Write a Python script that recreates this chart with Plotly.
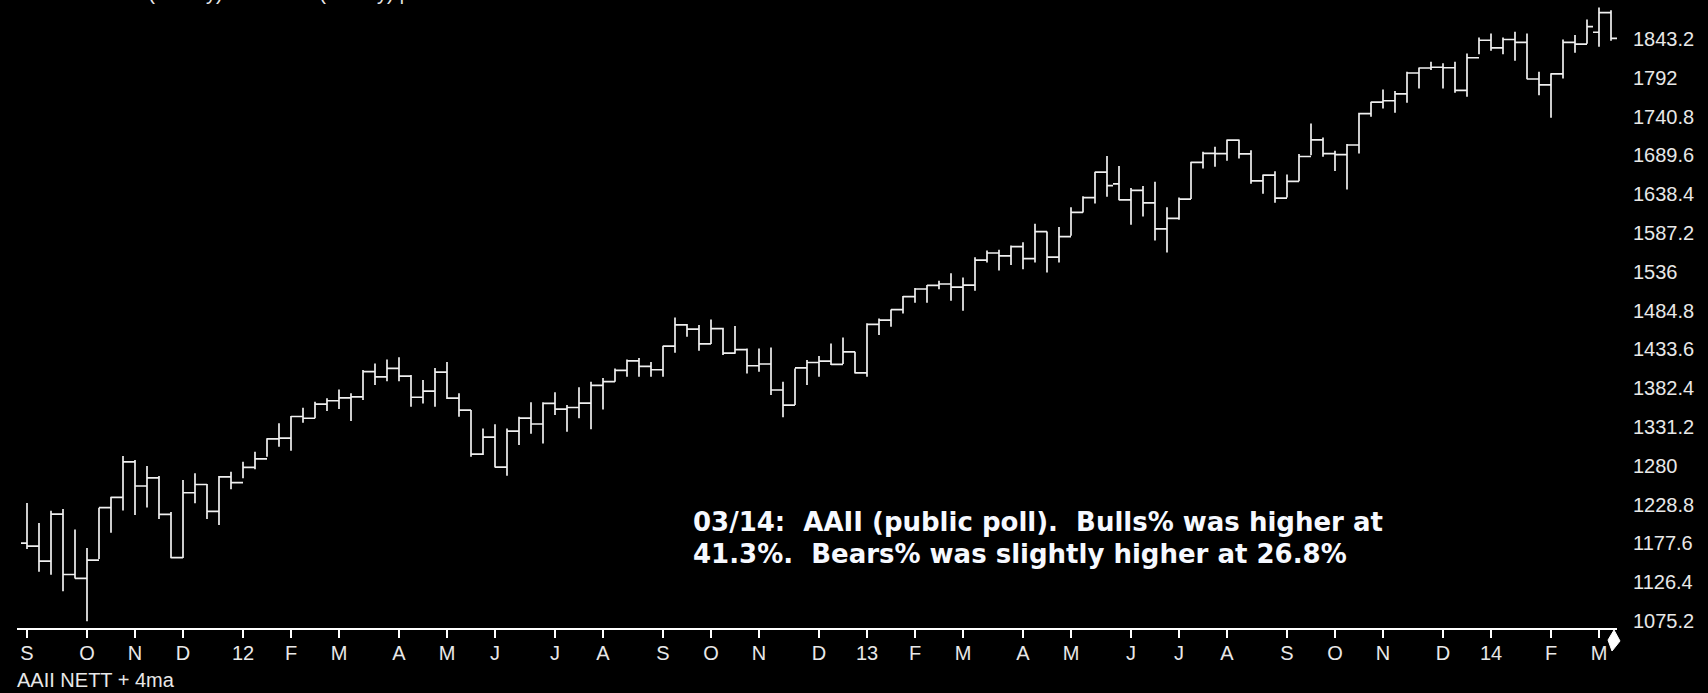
import pandas as pd
import plotly.graph_objects as go

# ---------------- data (weekly bars, week ending Friday) ----------------
first_week = "2011-09-02"
n_weeks = 133

highs = [1230.7, 1204.4, 1220.4, 1222.9, 1195.9, 1171.4, 1224.6, 1239.0, 1292.7, 1287.5,
         1279.6, 1266.4, 1219.0, 1261.0, 1270.0, 1255.8, 1266.4, 1272.0, 1285.3, 1298.5,
         1316.1, 1335.9, 1345.5, 1356.5, 1364.4, 1368.9, 1380.7, 1375.5, 1406.2, 1415.0,
         1420.3, 1423.0, 1399.6, 1393.0, 1409.0, 1417.0, 1375.5, 1353.4, 1329.0, 1334.7,
         1329.0, 1344.6, 1363.6, 1363.6, 1376.8, 1360.0, 1383.4, 1390.8, 1395.7, 1408.4,
         1420.0, 1422.0, 1416.9, 1438.3, 1475.7, 1466.9, 1465.6, 1473.0, 1462.0, 1464.2,
         1434.8, 1434.8, 1436.1, 1390.8, 1408.4, 1419.4, 1424.7, 1441.4, 1449.3, 1430.4,
         1467.9, 1474.2, 1486.0, 1504.0, 1514.4, 1518.3, 1524.1, 1533.8, 1528.5, 1555.2,
         1564.0, 1564.9, 1570.7, 1575.0, 1599.3, 1589.0, 1594.9, 1620.9, 1635.7, 1667.9,
         1688.6, 1675.4, 1646.4, 1649.0, 1654.7, 1620.9, 1634.0, 1681.2, 1694.4, 1700.8,
         1710.5, 1710.5, 1696.4, 1664.2, 1668.6, 1664.2, 1691.2, 1731.7, 1713.0, 1695.5,
         1704.4, 1745.6, 1760.2, 1776.5, 1774.5, 1799.7, 1805.5, 1813.0, 1811.0, 1813.0,
         1824.0, 1844.9, 1850.3, 1845.0, 1852.5, 1850.3, 1799.7, 1798.0, 1842.4, 1848.2,
         1868.8, 1884.7, 1881.0]

lows = [1170.0, 1140.1, 1136.2, 1114.2, 1131.1, 1074.8, 1157.0, 1191.5, 1221.0, 1215.0,
        1225.0, 1209.6, 1158.0, 1158.3, 1230.3, 1209.6, 1201.7, 1248.8, 1263.3, 1275.2,
        1291.9, 1305.0, 1299.8, 1336.7, 1342.5, 1352.1, 1354.8, 1338.9, 1366.6, 1386.4,
        1391.6, 1391.6, 1357.9, 1362.0, 1357.9, 1368.0, 1344.6, 1291.9, 1294.0, 1277.5,
        1266.7, 1307.2, 1322.3, 1309.4, 1346.8, 1324.8, 1342.5, 1328.0, 1354.3, 1390.8,
        1397.3, 1397.3, 1397.3, 1397.3, 1429.0, 1450.1, 1431.7, 1440.5, 1426.0, 1427.7,
        1401.8, 1404.0, 1373.2, 1343.8, 1360.0, 1386.5, 1397.4, 1413.0, 1414.1, 1401.6,
        1397.4, 1452.4, 1463.3, 1481.0, 1495.1, 1495.1, 1512.8, 1497.8, 1484.6, 1511.0,
        1548.0, 1537.5, 1545.0, 1539.3, 1548.0, 1534.9, 1548.0, 1583.5, 1614.0, 1626.0,
        1634.8, 1630.4, 1598.0, 1609.0, 1577.3, 1561.4, 1604.6, 1631.9, 1672.3, 1674.4,
        1682.3, 1685.4, 1651.9, 1638.7, 1626.9, 1634.0, 1655.4, 1689.8, 1687.6, 1669.0,
        1644.6, 1692.0, 1740.4, 1751.4, 1745.6, 1758.9, 1777.8, 1802.0, 1777.8, 1772.0,
        1766.8, 1823.1, 1827.4, 1823.1, 1814.3, 1790.0, 1769.0, 1739.0, 1791.0, 1824.8,
        1836.8, 1832.7, 1840.6]

closes = [1174.0, 1154.2, 1216.0, 1136.4, 1131.4, 1155.5, 1224.6, 1238.3, 1285.1, 1253.2,
          1263.9, 1215.7, 1158.7, 1244.3, 1255.2, 1219.7, 1265.3, 1257.6, 1277.8, 1289.1,
          1315.4, 1316.3, 1344.9, 1342.6, 1361.2, 1365.7, 1369.6, 1370.9, 1404.2, 1397.1,
          1408.5, 1398.1, 1370.3, 1378.5, 1403.4, 1369.1, 1353.4, 1295.2, 1317.8, 1278.0,
          1325.7, 1342.8, 1335.0, 1362.2, 1354.7, 1356.8, 1362.7, 1386.0, 1391.0, 1405.9,
          1418.2, 1411.1, 1406.6, 1437.9, 1465.8, 1460.2, 1440.7, 1460.9, 1428.6, 1433.2,
          1411.9, 1414.2, 1379.9, 1359.9, 1409.2, 1416.2, 1418.1, 1413.6, 1430.2, 1402.4,
          1466.5, 1472.1, 1486.0, 1503.0, 1513.2, 1517.9, 1519.8, 1515.6, 1518.2, 1551.2,
          1560.7, 1556.9, 1569.2, 1553.3, 1588.9, 1555.3, 1582.2, 1614.4, 1633.7, 1667.5,
          1649.6, 1630.7, 1643.4, 1626.7, 1592.4, 1606.3, 1631.9, 1680.2, 1692.1, 1691.7,
          1709.7, 1691.4, 1655.8, 1663.5, 1633.0, 1655.2, 1688.0, 1709.9, 1691.8, 1690.5,
          1703.2, 1744.5, 1759.8, 1761.6, 1770.6, 1798.2, 1804.8, 1805.8, 1805.1, 1775.3,
          1818.3, 1841.4, 1831.4, 1842.4, 1838.7, 1790.3, 1782.6, 1797.0, 1838.6, 1836.3,
          1859.5, 1878.0, 1844.0]

# opens: mostly the prior week's close; a few weeks gapped
opens = [1177.9] + closes[:-1]
opens[91] = 1652.0
opens[131] = 1852.0

y_tick_text = ["1075.2", "1126.4", "1177.6", "1228.8", "1280", "1331.2", "1382.4", "1433.6",
               "1484.8", "1536", "1587.2", "1638.4", "1689.6", "1740.8", "1792", "1843.2"]
y_tick_vals = [float(t) for t in y_tick_text]

month_letters = ["J", "F", "M", "A", "M", "J", "J", "A", "S", "O", "N", "D"]

note_line1 = "03/14:\u00a0\u00a0AAII (public poll).\u00a0\u00a0Bulls% was higher at"
note_line2 = "41.3%.\u00a0\u00a0Bears% was slightly higher at 26.8%"
bottom_label = "AAII NETT + 4ma"
top_label = "S&P 500 (weekly) AAII Bulls (weekly) |"

# ---------------- derived ----------------
dates = pd.date_range(first_week, periods=n_weeks, freq="W-FRI")

tick_vals, tick_text = [], []
prev_month = None
for d in dates:
    if d.month != prev_month:
        tick_vals.append(d)
        tick_text.append(f"{d.year % 100:02d}" if d.month == 1 else month_letters[d.month - 1])
        prev_month = d.month

# ---------------- layout geometry (pixels) ----------------
W, H = 1708, 693
plot_left, plot_right = 17, 1617
plot_bottom = 628
px_per_week = 12.0
days_per_px = 7.0 / px_per_week
first_bar_px, last_bar_px = 27, 1611
x_start = dates[0] - pd.Timedelta(days=(first_bar_px - plot_left) * days_per_px)
x_end = dates[-1] + pd.Timedelta(days=(plot_right - last_bar_px) * days_per_px)

px_per_unit = 38.8 / 51.2
ref_y_px = 620.9
y_top = 1075.2 + (ref_y_px - 0) / px_per_unit
y_bot = 1075.2 + (ref_y_px - plot_bottom) / px_per_unit

BAR = "#f0f0f0"
FONT = "Liberation Sans, Arial, sans-serif"

fig = go.Figure()
fig.add_trace(go.Ohlc(
    x=dates, open=opens, high=highs, low=lows, close=closes,
    increasing=dict(line=dict(color=BAR, width=1.7)),
    decreasing=dict(line=dict(color=BAR, width=1.7)),
    tickwidth=0.5, hoverinfo="skip", showlegend=False,
))

def px_x(p):
    return (p - plot_left) / (plot_right - plot_left)

def px_y(p):
    return (plot_bottom - p) / plot_bottom

note_font = dict(family="DejaVu Sans, sans-serif", size=26, color="#f6f9ff", weight="bold")

fig.update_layout(
    width=W, height=H,
    margin=dict(l=plot_left, r=W - plot_right, t=0, b=H - plot_bottom, pad=0),
    paper_bgcolor="#000000", plot_bgcolor="#000000",
    showlegend=False,
    xaxis=dict(
        type="date", range=[x_start, x_end], rangeslider=dict(visible=False),
        showgrid=False, zeroline=False,
        showline=True, linecolor="#ffffff", linewidth=2,
        ticks="outside", ticklen=8, tickwidth=1.5, tickcolor="#ffffff",
        tickvals=tick_vals, ticktext=tick_text, tickangle=0,
        tickfont=dict(family=FONT, size=20, color="#e8e8e8"),
        ticklabelstandoff=-2,
    ),
    yaxis=dict(
        side="right", range=[y_bot, y_top],
        showgrid=False, zeroline=False, showline=False,
        ticks="", tickvals=y_tick_vals, ticktext=y_tick_text,
        tickfont=dict(family=FONT, size=20, color="#e8e8e8"),
        ticklabelstandoff=15,
    ),
    annotations=[
        dict(xref="paper", yref="paper", x=px_x(691), y=px_y(522),
             xanchor="left", yanchor="middle", align="left", showarrow=False,
             text=note_line1, font=note_font),
        dict(xref="paper", yref="paper", x=px_x(691), y=px_y(554),
             xanchor="left", yanchor="middle", align="left", showarrow=False,
             text=note_line2, font=note_font),
        dict(xref="paper", yref="paper", x=px_x(15), y=px_y(680),
             xanchor="left", yanchor="middle", showarrow=False, text=bottom_label,
             font=dict(family=FONT, size=20, color="#e8e8e8")),
        dict(xref="paper", yref="paper", x=px_x(63), y=px_y(5),
             xanchor="left", yanchor="bottom", showarrow=False, text=top_label, borderpad=0,
             font=dict(family=FONT, size=20, color="#e8e8e8")),
    ],
    shapes=[
        dict(type="path", xref="paper", yref="paper",
             path=(f"M {px_x(1614)} {px_y(630)} L {px_x(1620)} {px_y(641)} "
                   f"L {px_x(1612)} {px_y(651)} L {px_x(1608)} {px_y(640)} Z"),
             fillcolor="#ffffff", line=dict(color="#ffffff", width=1)),
    ],
)

fig.write_html("out.html",
               config={"displayModeBar": False},
               post_script="document.body.style.margin='0px';document.body.style.overflow='hidden';")
